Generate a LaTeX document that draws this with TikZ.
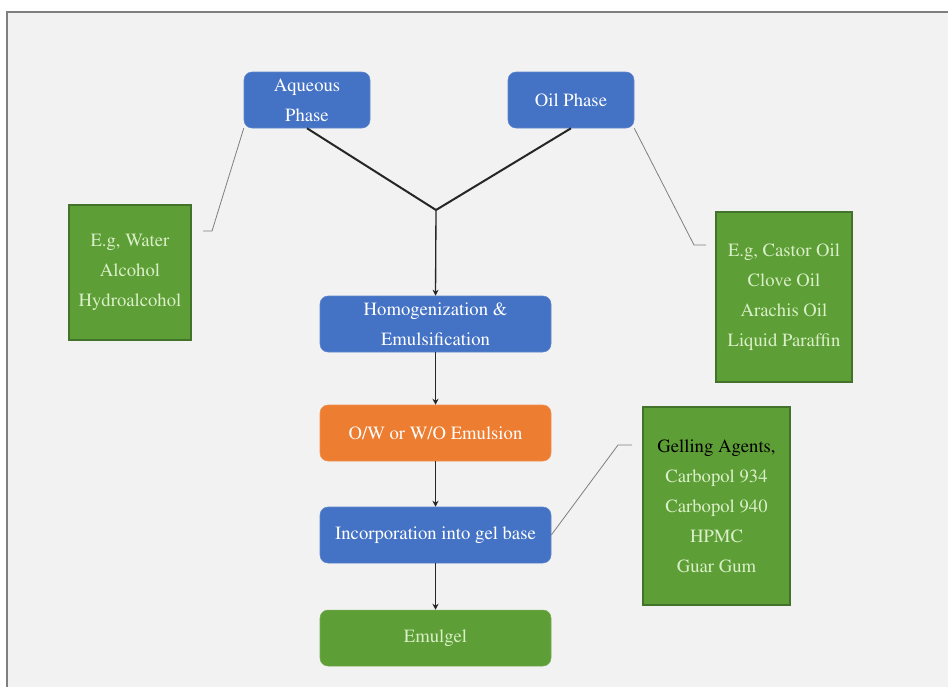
\documentclass[tikz,border=0pt]{standalone}
\usepackage[T1]{fontenc}
\usepackage{mathptmx}
\usetikzlibrary{arrows.meta}
\definecolor{bgc}{HTML}{F2F2F2}
\definecolor{framec}{HTML}{7F7F7F}
\definecolor{bluec}{HTML}{4472C4}
\definecolor{oranc}{HTML}{ED7D31}
\definecolor{greenc}{HTML}{5E9E36}
\definecolor{greenb}{HTML}{43722A}
\definecolor{gtext}{HTML}{D9EFC8}
\definecolor{linec}{HTML}{262626}
\tikzset{
  bluebox/.style={rectangle, rounded corners=6pt, fill=bluec, draw=bluec!85!white, text=white, align=center, minimum height=42pt, inner sep=2pt, font=\fontsize{14}{22.5}\selectfont},
  mainbox/.style={bluebox, minimum width=173.25pt},
  topbox/.style={bluebox, minimum width=94.5pt},
  orabox/.style={mainbox, fill=oranc, draw=oranc!85!white},
  gelbox/.style={mainbox, fill=greenc, draw=greenc!85!white, text=gtext},
  notebox/.style={rectangle, fill=greenc, draw=greenb, line width=0.8pt, text=gtext, align=center, inner sep=2pt, font=\fontsize{14}{22.5}\selectfont},
  joinline/.style={draw=linec, line width=1.5pt},
  flowarrow/.style={draw=linec, line width=1pt, -{Stealth[length=4.5pt,width=4.5pt]}},
  callout/.style={draw=framec, line width=0.6pt}
}
\begin{document}
\begin{tikzpicture}[x=0.75pt, y=-0.75pt]
\useasboundingbox (0,0) rectangle (948,687);
\fill[white] (0,0) rectangle (948,687);
\fill[bgc] (7,12) rectangle (948,687);
\draw[framec, line width=2pt] (7,687) -- (7,12) -- (948,12);

\node[topbox] (aq) at (307,100) {Aqueous\\Phase};
\node[topbox] (oil) at (571,100) {Oil Phase};
\node[mainbox] (hom) at (435.5,324) {Homogenization \&\\Emulsification};
\node[orabox] (emu) at (435.5,433) {O/W or W/O Emulsion};
\node[mainbox] (inc) at (435.5,535) {Incorporation into gel base};
\node[gelbox] (gel) at (435.5,638) {Emulgel};

\node[notebox, minimum width=91.5pt, minimum height=101.25pt] (water) at (130,272.5) {E.g, Water\\Alcohol\\Hydroalcohol};
\node[notebox, minimum width=102pt, minimum height=127.5pt] (castor) at (784,297) {E.g, Castor Oil\\Clove Oil\\Arachis Oil\\Liquid Paraffin};
\node[notebox, minimum width=110.25pt, minimum height=148.5pt] (gelling) at (716.5,506) {\textcolor{black}{Gelling Agents,}\\Carbopol 934\\Carbopol 940\\HPMC\\Guar Gum};

\coordinate (j) at (436,210);
\draw[joinline] (aq.south) -- (j);
\draw[joinline] (oil.south) -- (j);
\draw[flowarrow] (j) -- (hom.north);
\draw[flowarrow] (hom.south) -- (emu.north);
\draw[flowarrow] (emu.south) -- (inc.north);
\draw[flowarrow] (inc.south) -- (gel.north);

\coordinate (k1) at (212,231);
\coordinate (e1) at (203,231);
\draw[callout] (aq.south west) -- (k1) -- (e1);
\coordinate (k2) at (694,245);
\coordinate (e2) at (706,245);
\draw[callout] (oil.south east) -- (k2) -- (e2);
\coordinate (k3) at (618,445);
\coordinate (e3) at (632,445);
\draw[callout] (inc.east) -- (k3) -- (e3);
\end{tikzpicture}
\end{document}
